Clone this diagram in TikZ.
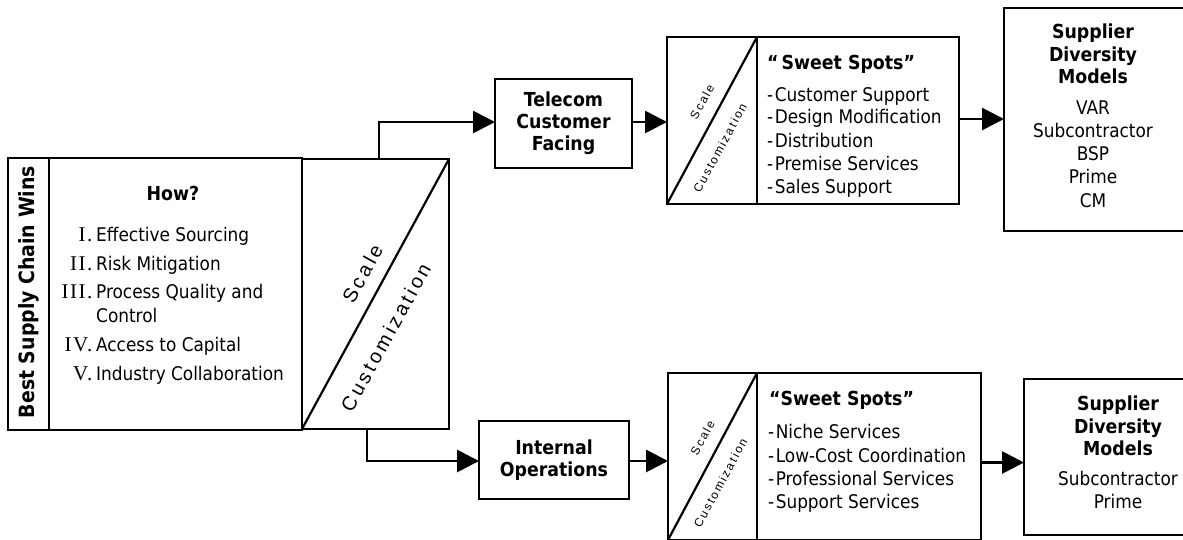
\documentclass[tikz,border=0pt]{standalone}
\usepackage{fontspec}
\setmainfont{DejaVu Sans Condensed}
\newfontfamily\labelfont[LetterSpace=16]{Liberation Sans}
\newfontfamily\numfont[LetterSpace=7]{Liberation Serif}
\usetikzlibrary{arrows.meta,calc}
\newcommand\fsz[2]{\fontsize{#1}{#2}\selectfont}

\begin{document}
\begin{tikzpicture}[x=1pt,y=-1pt,
  box/.style={draw, line width=2.6pt, inner sep=0pt, outer sep=0pt},
  diagline/.style={line width=2.2pt},
  arr/.style={line width=2.8pt, -{Triangle[length=22pt,width=22pt]}},
  txt/.style={inner sep=0pt, anchor=base},
  bodytext/.style={font=\fsz{18.8}{20}},
  headtext/.style={font=\bfseries\fsz{19.3}{22}},
  biglabel/.style={inner sep=0pt, font=\labelfont\fsz{20}{20}, rotate=61.2},
  smalllabel/.style={inner sep=0pt, font=\labelfont\fsz{12}{12}, rotate=61.6},
]
\useasboundingbox (0,0) rectangle (1183,539);
\fill[white] (0,0) rectangle (1183,539);

% ---- left block: title strip, "How?" list, scale/customization split
\node[box, minimum width=41pt, minimum height=272pt] (wins) at (28.5,294) {};
\node[box, minimum width=253pt, minimum height=272pt] (how) at (175.5,294) {};
\node[box, minimum width=147pt, minimum height=270pt] (bigdiag) at (375.5,294) {};
\draw[diagline] (bigdiag.south west) -- (bigdiag.north east);

\node[inner sep=0pt, font=\bfseries\fsz{21}{21}, rotate=90] (winsT) at (29,292) {Best Supply Chain Wins};
\node[txt, headtext] (howT) at (173,200) {How?};

\foreach \n/\num/\item/\yy in {a/I./Effective Sourcing/241.7,
                                b/II./Risk Mitigation/270,
                                c/III./Process Quality and/298,
                                d/IV./Access to Capital/351.7,
                                e/V./Industry Collaboration/380}{
  \node[txt, anchor=base east, font=\numfont\fsz{21}{21}] (num\n) at (92.5,\yy) {\num};
  \node[txt, anchor=base west, bodytext] (item\n) at (96,\yy) {\item};
}
\node[txt, anchor=base west, bodytext] (itemc2) at (96,322.7) {Control};

\node[biglabel] (bigScale) at (362.4,273.5) {Scale};
\node[biglabel] (bigCust) at (385.7,337.3) {Customization};

% ---- upper branch
\node[box, minimum width=137pt, minimum height=89pt, align=center, headtext] (tele) at (563.5,123.5) {Telecom\\Customer\\Facing};

\node[box, minimum width=90pt, minimum height=167pt] (sdA) at (712,120.5) {};
\node[box, minimum width=202pt, minimum height=167pt] (slA) at (858,120.5) {};
\draw[diagline] (sdA.south west) -- (sdA.north east);
\node[smalllabel] (scaleA) at (702,102) {Scale};
\node[smalllabel] (custA) at (719.9,148) {Customization};

\node[txt, anchor=base west, headtext] (ssA) at (767,69) {“\hspace{3pt}Sweet Spots”};
\foreach \n/\item/\yy in {a/Customer Support/101, b/Design Modification/123.5,
                          c/Distribution/147, d/Premise Services/170, e/Sales Support/193}{
  \node[txt, anchor=base west, bodytext] (spotA\n) at (767,\yy) {-\hspace{1.5pt}\item};
}

\node[box, minimum width=181pt, minimum height=223pt] (supA) at (1094.5,119.5) {};
\foreach \n/\item/\yy in {a/Supplier/38, b/Diversity/61, c/Models/83.5}{
  \node[txt, headtext] (supAh\n) at (1093,\yy) {\item};
}
\foreach \n/\item/\yy in {a/VAR/114, b/Subcontractor/137, c/BSP/160, d/Prime/183.5, e/CM/207}{
  \node[txt, bodytext] (supAi\n) at (1093,\yy) {\item};
}

% ---- lower branch
\node[box, minimum width=150pt, minimum height=78pt, align=center, headtext] (intern) at (554,460) {Internal\\Operations};

\node[box, minimum width=89pt, minimum height=167pt] (sdB) at (712.5,456.5) {};
\node[box, minimum width=224pt, minimum height=167pt] (slB) at (869,456.5) {};
\draw[diagline] (sdB.south west) -- (sdB.north east);
\node[smalllabel] (scaleB) at (702.5,438) {Scale};
\node[smalllabel] (custB) at (720.4,483) {Customization};

\node[txt, anchor=base west, headtext] (ssB) at (769,405) {“Sweet Spots”};
\foreach \n/\item/\yy in {a/Niche Services/438, b/Low-Cost Coordination/462,
                          c/Professional Services/485, d/Support Services/508}{
  \node[txt, anchor=base west, bodytext] (spotB\n) at (768,\yy) {-\hspace{1.5pt}\item};
}

\node[box, minimum width=161pt, minimum height=156pt] (supB) at (1104.5,457) {};
\foreach \n/\item/\yy in {a/Supplier/410, b/Diversity/433, c/Models/455}{
  \node[txt, headtext] (supBh\n) at (1118,\yy) {\item};
}
\foreach \n/\item/\yy in {a/Subcontractor/485, b/Prime/508}{
  \node[txt, bodytext] (supBi\n) at (1118,\yy) {\item};
}

% ---- connectors
\coordinate (upOut) at ($(bigdiag.north west)+(77,0)$);
\coordinate (downOut) at ($(bigdiag.south west)+(65,0)$);
\draw[arr] (upOut) |- ($(tele.west)+(0,-1.5)$);
\draw[arr] ($(tele.east)+(0,-1.5)$) -- ($(tele.east -| sdA.west)+(0,-1.5)$);
\draw[arr] ($(slA.east)+(0,-1.5)$) -- ($(slA.east -| supA.west)+(0,-1.5)$);
\draw[arr] (downOut) |- ($(intern.west)+(0,1)$);
\draw[arr] ($(intern.east)+(0,1)$) -- ($(intern.east -| sdB.west)+(0,1)$);
\draw[arr] ($(slB.east)+(0,6)$) -- ($(slB.east -| supB.west)+(0,6)$);
\end{tikzpicture}
\end{document}
